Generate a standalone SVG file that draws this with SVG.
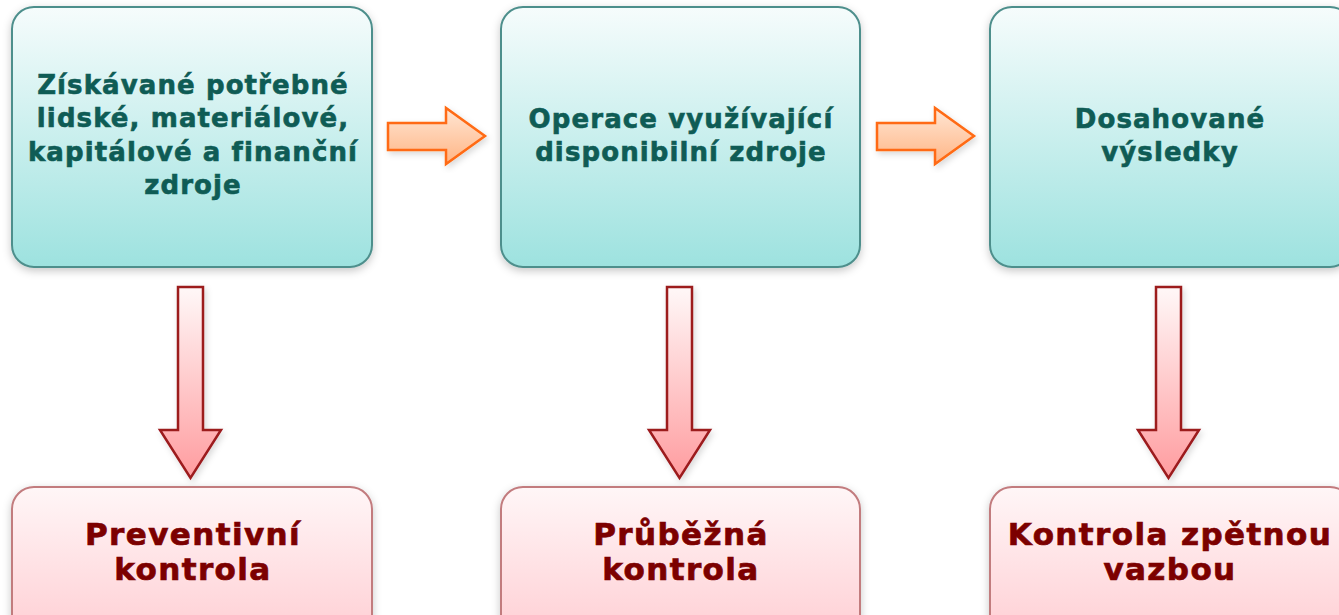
<svg xmlns="http://www.w3.org/2000/svg" width="1339" height="615" viewBox="0 0 1339 615">
<defs>
<linearGradient id="gTeal" x1="0" y1="0" x2="0" y2="1">
<stop offset="0" stop-color="#f6fcfc"/>
<stop offset="1" stop-color="#9de2df"/>
</linearGradient>
<linearGradient id="gPink" x1="0" y1="0" x2="0" y2="1">
<stop offset="0" stop-color="#fff6f7"/>
<stop offset="1" stop-color="#ffcfd4"/>
</linearGradient>
<linearGradient id="gOrange" x1="0" y1="0" x2="0" y2="1">
<stop offset="0" stop-color="#ffe6d4"/>
<stop offset="1" stop-color="#ffb585"/>
</linearGradient>
<linearGradient id="gRed" x1="0" y1="0" x2="0" y2="1">
<stop offset="0" stop-color="#fff8f8"/>
<stop offset="1" stop-color="#ff9c9f"/>
</linearGradient>
<filter id="sh" x="-10%" y="-10%" width="120%" height="125%">
<feDropShadow dx="0" dy="3" stdDeviation="4" flood-color="#000" flood-opacity="0.22"/>
</filter>
<filter id="sh2" x="-30%" y="-10%" width="160%" height="125%">
<feDropShadow dx="2" dy="3" stdDeviation="3" flood-color="#000" flood-opacity="0.15"/>
</filter>
</defs>
<style>
.top{fill:url(#gTeal);stroke:#4e8f8c;stroke-width:2;filter:url(#sh)}
.bot{fill:url(#gPink);stroke:#c27b7e;stroke-width:2;filter:url(#sh)}
.ha{fill:url(#gOrange);stroke:#ff6a12;stroke-width:2.5;stroke-linejoin:miter;filter:url(#sh2)}
.va{fill:url(#gRed);stroke:#9c1a1f;stroke-width:2.5;stroke-linejoin:miter;filter:url(#sh2)}
.tt{font-family:"DejaVu Sans",Verdana,sans-serif;font-weight:bold;font-size:26px;letter-spacing:1.1px;fill:#0f5c55;stroke:#0f5c55;stroke-width:0.6px;text-anchor:middle}
.bt{font-family:"DejaVu Sans",Verdana,sans-serif;font-weight:bold;font-size:31px;letter-spacing:1.4px;fill:#7c0000;stroke:#7c0000;stroke-width:0.7px;text-anchor:middle}
</style>
<rect width="1339" height="615" fill="#ffffff"/>
<g id="connectors">
<path class="ha" d="M388,123 H446 V108 L485,136 L446,164 V150 H388 Z"/>
<path class="ha" d="M877,123 H935 V108 L974,136 L935,164 V150 H877 Z"/>
<path class="va" d="M178,287 H203 V430 H221 L190.5,478 L160,430 H178 Z"/>
<path class="va" d="M667,287 H692 V430 H710 L679.5,478 L649,430 H667 Z"/>
<path class="va" d="M1156,287 H1181 V430 H1199 L1168.5,478 L1138,430 H1156 Z"/>
</g>
<g id="n1">
<rect class="top" x="12" y="7" width="360" height="260" rx="22"/>
<text class="tt" x="193" y="94">Získávané potřebné</text>
<text class="tt" x="193" y="127">lidské, materiálové,</text>
<text class="tt" x="193" y="161">kapitálové a finanční</text>
<text class="tt" x="193" y="194">zdroje</text>
</g>
<g id="n2">
<rect class="top" x="501" y="7" width="359" height="260" rx="22"/>
<text class="tt" x="681" y="128">Operace využívající</text>
<text class="tt" x="681" y="161">disponibilní zdroje</text>
</g>
<g id="n3">
<rect class="top" x="990" y="7" width="362" height="260" rx="22"/>
<text class="tt" x="1170" y="128">Dosahované</text>
<text class="tt" x="1170" y="161">výsledky</text>
</g>
<g id="n4">
<rect class="bot" x="12" y="487" width="360" height="150" rx="22"/>
<text class="bt" x="193" y="545">Preventivní</text>
<text class="bt" x="193" y="580">kontrola</text>
</g>
<g id="n5">
<rect class="bot" x="501" y="487" width="359" height="150" rx="22"/>
<text class="bt" x="681" y="545">Průběžná</text>
<text class="bt" x="681" y="580">kontrola</text>
</g>
<g id="n6">
<rect class="bot" x="990" y="487" width="362" height="150" rx="22"/>
<text class="bt" x="1170" y="545">Kontrola zpětnou</text>
<text class="bt" x="1170" y="580">vazbou</text>
</g>
</svg>
